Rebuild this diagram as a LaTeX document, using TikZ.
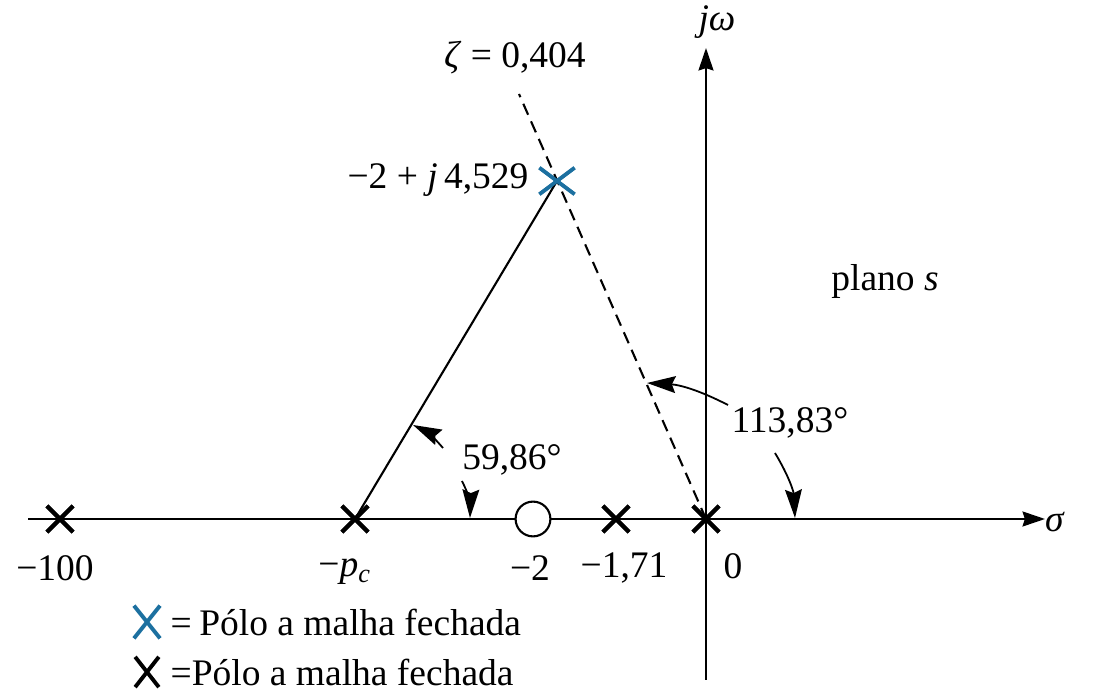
\documentclass[tikz,border=0pt]{standalone}
\usepackage{fontspec}
\setmainfont{Liberation Serif}
\usepackage{tikz}
\usetikzlibrary{positioning,arrows.meta,shapes.misc}
\definecolor{PoleBlue}{RGB}{28,112,160}
\tikzset{
  ax/.style={draw=black,line width=0.7pt,-{Stealth[length=7.5pt,width=5pt,inset=0.8pt]}},
  pole/.style={cross out,draw=black,line width=1.4pt,minimum size=7.3pt,inner sep=0pt},
  clpole/.style={cross out,draw=PoleBlue,line width=1.2pt,minimum width=10.5pt,minimum height=7.6pt,inner sep=0pt},
  keyblue/.style={cross out,draw=PoleBlue,line width=1.3pt,minimum width=7.4pt,minimum height=9.6pt,inner sep=0pt},
  keyblack/.style={cross out,draw=black,line width=1.3pt,minimum width=6.6pt,minimum height=8.8pt,inner sep=0pt},
  zero/.style={circle,draw=black,line width=0.7pt,fill=white,minimum size=11.6pt,inner sep=0pt},
  lbl/.style={font=\fontsize{12.5}{15}\selectfont,inner sep=1pt},
  rline/.style={draw=black,line width=0.7pt},
  zline/.style={draw=black,line width=0.7pt,dash pattern=on 4pt off 2.4pt},
  angarrow/.style={draw=black,line width=0.6pt,-{Stealth[length=9.5pt,width=5.6pt,inset=1.2pt]}},
}

\begin{document}
\begin{tikzpicture}[x=0.3333pt,y=0.3333pt]
\useasboundingbox (0,0) rectangle (1099,691);
\coordinate (reL) at (28,172);
\coordinate (reR) at (1045,172);
\coordinate (imB) at (706,11);
\coordinate (imT) at (706,643);
\coordinate (zt) at (519,597);
\coordinate (a1s) at (443,243);
\coordinate (a1e) at (413,266);
\coordinate (a2s) at (462,210);
\coordinate (a2e) at (470,173);
\coordinate (a3s) at (728,286);
\coordinate (a3e) at (647,308);
\coordinate (a4s) at (775,238);
\coordinate (a4e) at (795,173);
\draw[ax] (reL)--(reR);
\draw[ax] (imB)--(imT);
\node[pole] (p100) at (60,172) {};
\node[pole] (ppc) at (355,172) {};
\node[pole] (p171) at (616,172) {};
\node[pole] (p0) at (706,172) {};
\node[clpole] (cl) at (557,510) {};
\draw[rline] (ppc.center)--(cl.center);
\draw[zline] (p0.center)--(zt);
\node[zero] (z2) at (533,172) {};
\node[pole] at (p100) {};
\node[pole] at (ppc) {};
\node[pole] at (p171) {};
\node[pole] at (p0) {};
\node[clpole] at (cl) {};
\draw[angarrow] (a1s) to[bend right=12] (a1e);
\draw[angarrow] (a2s) to[bend left=14] (a2e);
\draw[angarrow] (a3s) to[bend right=12] (a3e);
\draw[angarrow] (a4s) to[bend left=14] (a4e);
\node[lbl] (jw) at (717,669) {\textit{jω}};
\node[lbl] (sg) at (1055,169) {\textit{σ}};
\node[lbl] (zeta) at (515,633) {\textit{ζ} = 0,404};
\node[lbl,anchor=east] (cllbl) at (532,511) {−2 + \textit{j}\,4,529};
\node[lbl] (plano) at (885,410) {plano \textit{s}};
\node[lbl] (ang2) at (790,268) {113,83°};
\node[lbl] (ang1) at (512,231) {59,86°};
\node[lbl] (l100) at (55,123) {−100};
\node[lbl] (lpc) at (345,119) {−\textit{p}\textsubscript{\textit{c}}};
\node[lbl] (l2) at (530,123) {−2};
\node[lbl] (l171) at (624,123) {−1,71};
\node[lbl] (l0) at (733,125) {0};
\node[keyblue] (k1) at (147,69) {};
\node[keyblack] (k2) at (147,19) {};
\node[lbl,anchor=west] (k1t) at (167,69) {=\hspace{2.5pt}Pólo a malha fechada};
\node[lbl,anchor=west] (k2t) at (167,19) {=Pólo a malha fechada};
\end{tikzpicture}
\end{document}
